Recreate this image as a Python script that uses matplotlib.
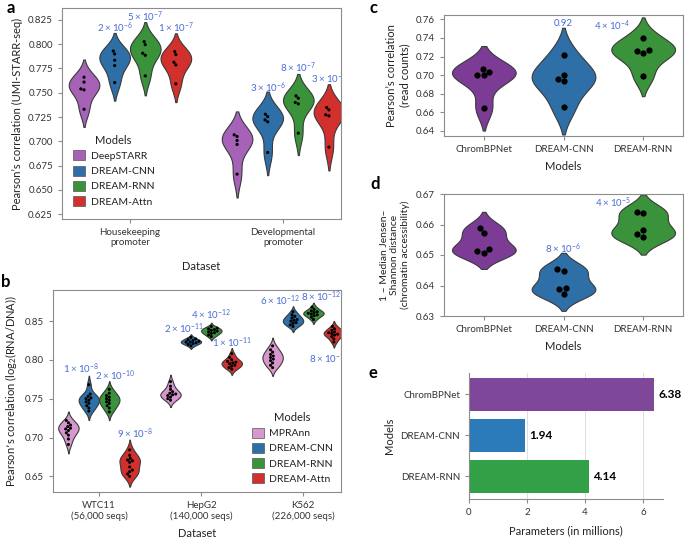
import matplotlib
matplotlib.use('Agg')
import matplotlib.pyplot as plt
import seaborn as sns
import pandas as pd
from matplotlib.patches import Patch

plt.rcParams['font.family'] = ['Lato', 'DejaVu Sans']
plt.rcParams['mathtext.default'] = 'regular'
plt.rcParams['axes.edgecolor'] = '#8c8c8c'
plt.rcParams['axes.linewidth'] = 0.8
plt.rcParams['xtick.color'] = '#8c8c8c'
plt.rcParams['ytick.color'] = '#8c8c8c'
plt.rcParams['xtick.labelcolor'] = '#333333'
plt.rcParams['ytick.labelcolor'] = '#333333'
plt.rcParams['xtick.labelsize'] = 7
plt.rcParams['ytick.labelsize'] = 7
plt.rcParams['axes.labelsize'] = 8
plt.rcParams['axes.labelcolor'] = '#222222'

# ---------------- data ----------------
# Panel a (UMI-STARR-seq)
a_datasets = ['Housekeeping\npromoter', 'Developmental\npromoter']
a_models = ['DeepSTARR', 'DREAM-CNN', 'DREAM-RNN', 'DREAM-Attn']
hk_deepstarr = [0.766, 0.761, 0.754, 0.753, 0.733]
hk_cnn = [0.793, 0.790, 0.7835, 0.778, 0.7605]
hk_rnn = [0.8027, 0.7996, 0.7907, 0.7886, 0.7674]
hk_attn = [0.7924, 0.7893, 0.7814, 0.7787, 0.7592]
dev_deepstarr = [0.7067, 0.705, 0.7009, 0.6968, 0.6662]
dev_cnn = [0.7279, 0.7255, 0.7221, 0.7201, 0.6885]
dev_rnn = [0.7468, 0.7444, 0.740, 0.7386, 0.7084]
dev_attn = [0.7348, 0.7324, 0.7273, 0.7262, 0.694]
a_pvals = [('2', '-6'), ('5', '-7'), ('1', '-7'), ('3', '-6'), ('8', '-7'), ('3', '-7')]

# Panel b (MPRA)
b_datasets = ['WTC11\n(56,000 seqs)', 'HepG2\n(140,000 seqs)', 'K562\n(226,000 seqs)']
b_models = ['MPRAnn', 'DREAM-CNN', 'DREAM-RNN', 'DREAM-Attn']
wtc_mpraann = [0.722, 0.719, 0.716, 0.714, 0.712, 0.711, 0.709, 0.706, 0.703, 0.698, 0.691]
wtc_cnn = [0.768, 0.756, 0.753, 0.751, 0.750, 0.748, 0.746, 0.744, 0.741, 0.738, 0.734]
wtc_rnn = [0.762, 0.757, 0.754, 0.752, 0.750, 0.748, 0.746, 0.744, 0.741, 0.738, 0.733]
wtc_attn = [0.684, 0.677, 0.673, 0.671, 0.670, 0.668, 0.662, 0.658, 0.656, 0.653, 0.650]
hep_mpraann = [0.772, 0.766, 0.762, 0.759, 0.757, 0.756, 0.755, 0.754, 0.752, 0.750, 0.748]
hep_cnn = [0.829, 0.827, 0.826, 0.825, 0.824, 0.823, 0.823, 0.822, 0.821, 0.820, 0.818]
hep_rnn = [0.843, 0.841, 0.840, 0.839, 0.838, 0.837, 0.836, 0.835, 0.834, 0.832, 0.830]
hep_attn = [0.808, 0.803, 0.800, 0.798, 0.797, 0.796, 0.795, 0.793, 0.792, 0.790, 0.788]
k562_mpraann = [0.818, 0.813, 0.810, 0.807, 0.805, 0.803, 0.801, 0.799, 0.796, 0.793, 0.790]
k562_cnn = [0.862, 0.858, 0.856, 0.854, 0.852, 0.851, 0.850, 0.848, 0.847, 0.845, 0.843]
k562_rnn = [0.868, 0.865, 0.863, 0.862, 0.861, 0.860, 0.859, 0.858, 0.857, 0.855, 0.852]
k562_attn = [0.843, 0.840, 0.838, 0.836, 0.835, 0.834, 0.833, 0.832, 0.830, 0.827, 0.823]
b_pvals = [('1', '-8'), ('2', '-10'), ('9', '-8'), ('2', '-11'), ('4', '-12'), ('1', '-11'),
           ('6', '-12'), ('8', '-12'), ('8', '-10')]

# Panel c / d (chromatin accessibility)
cd_models = ['ChromBPNet', 'DREAM-CNN', 'DREAM-RNN']
c_chrombpnet = [0.7066, 0.7038, 0.7005, 0.6998, 0.6651]
c_cnn = [0.7217, 0.7005, 0.6962, 0.6934, 0.6654]
c_rnn = [0.7403, 0.727, 0.726, 0.7235, 0.6991]
c_pvals = ['0.92', ('4', '-4')]
d_chrombpnet = [0.6588, 0.6571, 0.6519, 0.6513, 0.6508]
d_cnn = [0.6453, 0.6447, 0.6393, 0.6387, 0.6371]
d_rnn = [0.6641, 0.6637, 0.6582, 0.6568, 0.6558]
d_pvals = [('8', '-6'), ('4', '-5')]

# Panel e (parameters)
e_models = ['ChromBPNet', 'DREAM-CNN', 'DREAM-RNN']
e_params = [6.38, 1.94, 4.14]

# ---------------- styles ----------------
a_colors = ['#A562B6', '#2E6FA7', '#3A923B', '#D1302D']
b_colors = ['#D898CF', '#2E6FA7', '#3A923B', '#D1302D']
cd_colors = ['#7C3C96', '#2E6FA7', '#3A923B']
e_colors = ['#7F4799', '#2B7AB9', '#31A047']
pcol = '#4a6cd4'
edge = '#3a3a3a'

W, H = 685, 541
fig = plt.figure(figsize=(W / 100, H / 100), dpi=100)


def axes_px(l, t, r, b):
    return fig.add_axes([l / W, 1 - b / H, (r - l) / W, (b - t) / H])


def long_df(groups, datasets, models):
    rows = []
    for di, d in enumerate(datasets):
        for mi, m in enumerate(models):
            for v in groups[di][mi]:
                rows.append((d, m, v))
    return pd.DataFrame(rows, columns=['dataset', 'model', 'value'])


def ptxt(p):
    if isinstance(p, str):
        return p
    return r'$%s\times10^{%s}$' % p


def hue_violins(ax, df, datasets, models, colors, psize):
    pal = dict(zip(models, colors))
    for d in datasets:
        sub = df[df['dataset'] == d]
        sns.violinplot(data=sub, x='dataset', y='value', hue='model', order=datasets,
                       hue_order=models, palette=pal, saturation=1, inner=None,
                       linewidth=0.8, linecolor=edge, density_norm='area', ax=ax,
                       legend=False)
        sns.swarmplot(data=sub, x='dataset', y='value', hue='model', order=datasets,
                      hue_order=models, palette={m: 'black' for m in models}, dodge=True,
                      size=psize, ax=ax, legend=False)


def legend(ax, models, colors, anchor, loc):
    handles = [Patch(facecolor=c, edgecolor='#555555', linewidth=0.5) for c in colors]
    lg = ax.legend(handles, models, title='Models', frameon=False, loc=loc,
                   bbox_to_anchor=anchor, fontsize=7.5, title_fontsize=8,
                   handlelength=1.15, handleheight=1.1, handletextpad=0.55,
                   labelspacing=0.45, borderpad=0, borderaxespad=0)
    lg.get_title().set_color('#222222')
    for t in lg.get_texts():
        t.set_color('#222222')


offs = [-0.3, -0.1, 0.1, 0.3]

# ---------------- panel a ----------------
ax = axes_px(62, 8, 341, 219)
dfa = long_df([[hk_deepstarr, hk_cnn, hk_rnn, hk_attn],
               [dev_deepstarr, dev_cnn, dev_rnn, dev_attn]], a_datasets, a_models)
hue_violins(ax, dfa, a_datasets, a_models, a_colors, 2.3)
ax.set_xlim(-0.444, 1.379)
ax.set_ylim(0.620, 0.8373)
ax.set_yticks([0.625, 0.65, 0.675, 0.70, 0.725, 0.75, 0.775, 0.80, 0.825])
ax.set_yticklabels(['%.3f' % v for v in ax.get_yticks()])
ax.set_xticks([0, 1])
ax.set_xticklabels(a_datasets)
ax.set_xlabel('Dataset', labelpad=10)
ax.set_ylabel('Pearson\u2019s correlation (UMI-STARR-seq)')
a_pos = [(0, 1, 0.8175), (0, 2, 0.8284), (0, 3, 0.8175),
         (1, 1, 0.7557), (1, 2, 0.7760), (1, 3, 0.7640)]
for (di, mi, y), p in zip(a_pos, a_pvals):
    ax.text(di + offs[mi], y, ptxt(p), color=pcol, fontsize=7, ha='center', va='center',
            clip_on=True)
legend(ax, a_models, a_colors, (0.039, 0.40), 'upper left')
ax.tick_params(length=3, width=0.8)
ax.text(-0.2, 1.0, 'a', transform=ax.transAxes, fontsize=12, fontweight='bold',
        va='center', ha='left')

# ---------------- panel b ----------------
ax = axes_px(53, 290, 341, 492)
dfb = long_df([[wtc_mpraann, wtc_cnn, wtc_rnn, wtc_attn],
               [hep_mpraann, hep_cnn, hep_rnn, hep_attn],
               [k562_mpraann, k562_cnn, k562_rnn, k562_attn]], b_datasets, b_models)
hue_violins(ax, dfb, b_datasets, b_models, b_colors, 2.2)
ax.set_xlim(-0.451, 2.37)
ax.set_ylim(0.6298, 0.89)
ax.set_yticks([0.65, 0.70, 0.75, 0.80, 0.85])
ax.set_yticklabels(['%.2f' % v for v in ax.get_yticks()])
ax.set_xticks([0, 1, 2])
ax.set_xticklabels(b_datasets)
ax.set_xlabel('Dataset', labelpad=5)
ax.set_ylabel('Pearson\u2019s correlation (log$_2$(RNA/DNA))')
b_pos = [(0, 1, 0.788, -0.08), (0, 2, 0.779, 0.06), (0, 3, 0.705, 0.05),
         (1, 1, 0.8405, -0.07), (1, 2, 0.8586, 0.0), (1, 3, 0.822, 0.0),
         (2, 1, 0.876, -0.13), (2, 2, 0.881, 0.07), (2, 3, 0.802, -0.05)]
for (di, mi, y, dx), p in zip(b_pos, b_pvals):
    ax.text(di + offs[mi] + dx, y, ptxt(p), color=pcol, fontsize=7, ha='center',
            va='center', clip_on=True)
legend(ax, b_models, b_colors, (0.69, 0.04), 'lower left')
ax.tick_params(length=3, width=0.8)
ax.text(-0.18, 1.04, 'b', transform=ax.transAxes, fontsize=12, fontweight='bold',
        va='center', ha='left')


def simple_violins(ax, groups, models, colors, psize):
    rows = [(m, v) for m, g in zip(models, groups) for v in g]
    df = pd.DataFrame(rows, columns=['model', 'value'])
    pal = dict(zip(models, colors))
    sns.violinplot(data=df, x='model', y='value', hue='model', order=models,
                   hue_order=models, palette=pal, saturation=1, inner=None,
                   linewidth=0.8, linecolor=edge, density_norm='width', ax=ax,
                   legend=False)
    sns.swarmplot(data=df, x='model', y='value', order=models, color='black',
                  size=psize, ax=ax)


# ---------------- panel c ----------------
ax = axes_px(444, 15, 683, 136)
simple_violins(ax, [c_chrombpnet, c_cnn, c_rnn], cd_models, cd_colors, 4.5)
ax.set_xlim(-0.5, 2.5)
ax.set_ylim(0.6346, 0.7646)
ax.set_yticks([0.64, 0.66, 0.68, 0.70, 0.72, 0.74, 0.76])
ax.set_yticklabels(['%.2f' % v for v in ax.get_yticks()])
ax.set_xlabel('Models', labelpad=5)
ax.set_ylabel('Pearson\u2019s correlation\n(read counts)')
ax.text(1, 0.756, ptxt(c_pvals[0]), color=pcol, fontsize=7, ha='center', va='center')
ax.text(1.61, 0.753, ptxt(c_pvals[1]), color=pcol, fontsize=7, ha='center', va='center')
ax.tick_params(length=3, width=0.8)
ax.text(-0.31, 1.06, 'c', transform=ax.transAxes, fontsize=12, fontweight='bold',
        va='center', ha='left')

# ---------------- panel d ----------------
ax = axes_px(444, 194, 683, 316)
simple_violins(ax, [d_chrombpnet, d_cnn, d_rnn], cd_models, cd_colors, 4.5)
ax.set_xlim(-0.5, 2.5)
ax.set_ylim(0.63, 0.67)
ax.set_yticks([0.63, 0.64, 0.65, 0.66, 0.67])
ax.set_yticklabels(['%.2f' % v for v in ax.get_yticks()])
ax.set_xlabel('Models', labelpad=5)
ax.set_ylabel('1 \u2013 Median Jensen\u2013\nShannon distance\n(chromatin accessibility)',
              fontsize=7.5)
ax.text(1, 0.652, ptxt(d_pvals[0]), color=pcol, fontsize=7, ha='center', va='center')
ax.text(1.62, 0.6673, ptxt(d_pvals[1]), color=pcol, fontsize=7, ha='center', va='center')
ax.tick_params(length=3, width=0.8)
ax.text(-0.31, 1.08, 'd', transform=ax.transAxes, fontsize=12, fontweight='bold',
        va='center', ha='left')

# ---------------- panel e ----------------
ax = axes_px(469, 373, 663, 499)
bars = ax.barh(e_models, e_params, color=e_colors, height=0.8, zorder=2)
ax.bar_label(bars, fmt='%.2f', padding=3, fontsize=8.5, fontweight='bold')
ax.set_xlim(0, 6.68)
ax.set_ylim(2.55, -0.52)
ax.set_xticks([0, 2, 4, 6])
ax.grid(axis='x', color='#dddddd', linewidth=0.7, zorder=0)
ax.set_axisbelow(True)
for s in ['top', 'right']:
    ax.spines[s].set_visible(False)
ax.set_xlabel('Parameters (in millions)', labelpad=6)
ax.set_ylabel('Models')
ax.tick_params(length=3, width=0.8)
ax.text(-0.52, 1.0, 'e', transform=ax.transAxes, fontsize=12, fontweight='bold',
        va='center', ha='left')

fig.savefig('out.png', dpi=100)
